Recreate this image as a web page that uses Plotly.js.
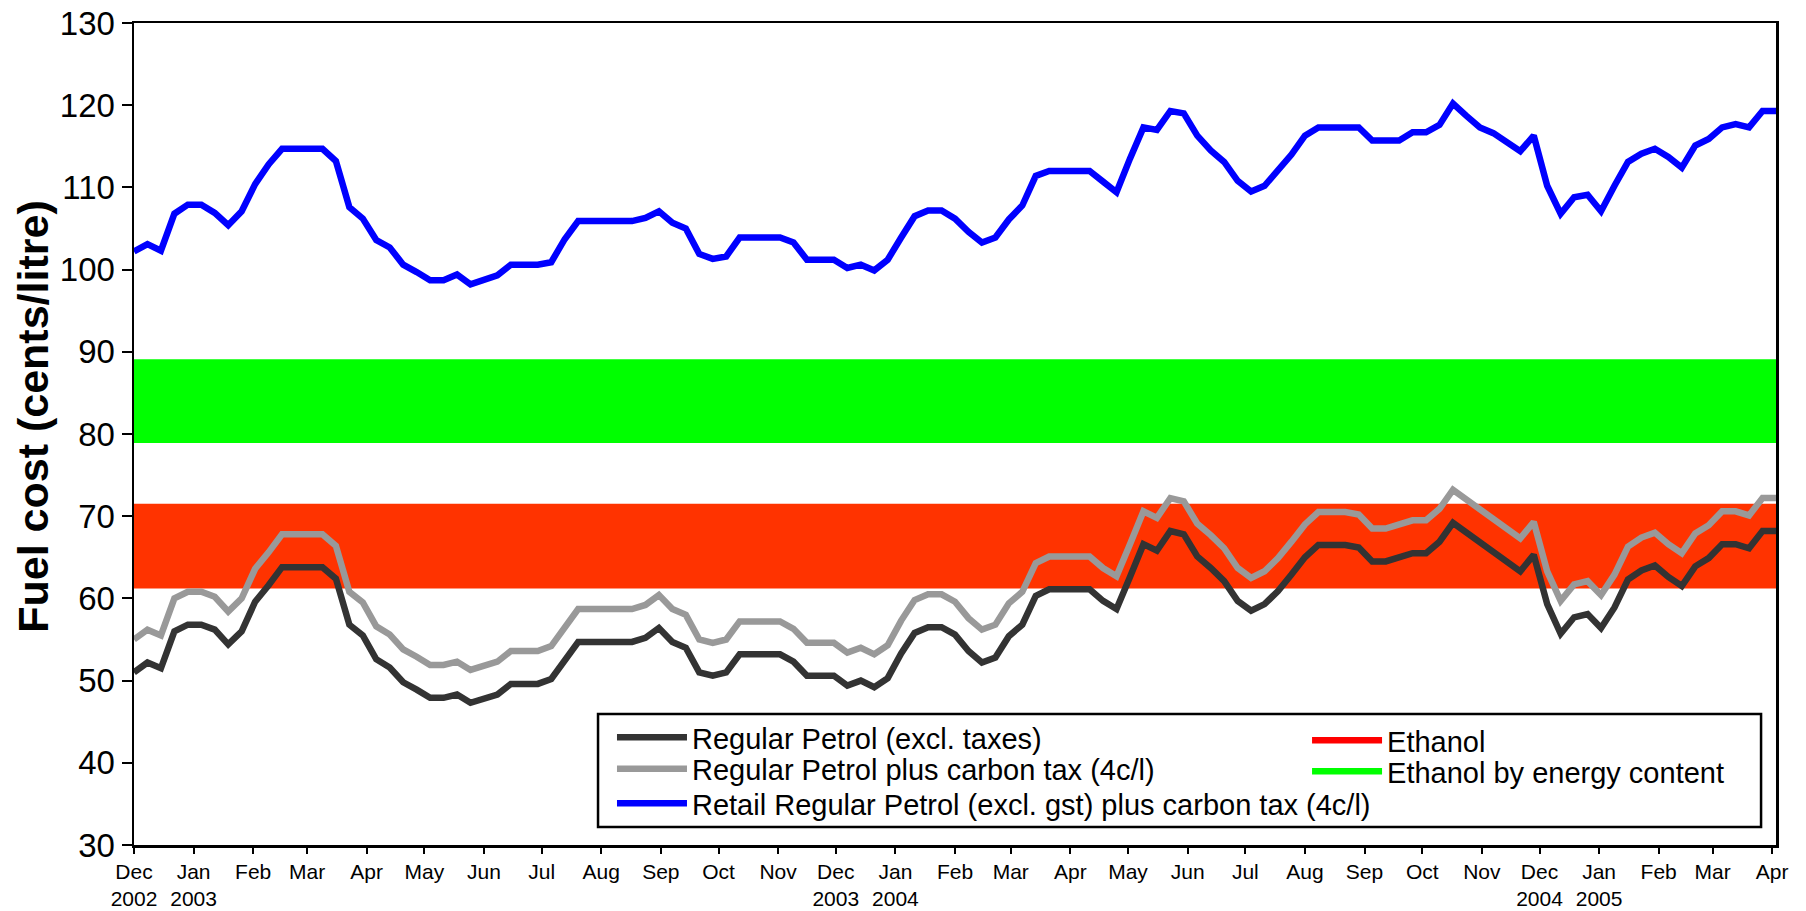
<!DOCTYPE html>
<html>
<head>
<meta charset="utf-8">
<script src="https://cdn.plot.ly/plotly-3.0.1.min.js"></script>
<style>
  html, body { margin: 0; padding: 0; background: #fff; }
  #chart { width: 1806px; height: 911px; }
</style>
</head>
<body>
<div id="chart"></div>
<script>
// ---- Data (weekly observations, cents/litre) ----
const firstWeek = '2002-12-01';

const regularPetrol = [
  51.0, 52.2, 51.5, 56.0, 56.8, 56.8, 56.2, 54.4, 56.0, 59.6,
  61.6, 63.8, 63.8, 63.8, 63.8, 62.4, 56.8, 55.5, 52.6, 51.6,
  49.8, 48.9, 47.9, 47.9, 48.3, 47.3, 47.9, 48.3, 49.6, 49.6,
  49.6, 50.2, 52.4, 54.7, 54.7, 54.7, 54.7, 54.7, 55.2, 56.4,
  54.7, 54.0, 51.0, 50.6, 51.0, 53.2, 53.2, 53.2, 53.2, 52.3,
  50.6, 50.6, 50.6, 49.4, 50.0, 49.2, 50.3, 53.3, 55.8, 56.5,
  56.5, 55.6, 53.6, 52.2, 52.8, 55.4, 56.8, 60.3, 61.1, 61.1,
  61.1, 61.1, 59.7, 58.7, 62.6, 66.6, 65.8, 68.2, 67.8, 65.1,
  63.7, 62.1, 59.7, 58.5, 59.3, 60.9, 62.9, 65.0, 66.5, 66.5,
  66.5, 66.2, 64.5, 64.5, 64.9, 65.5, 65.5, 66.9, 69.2, 68.0,
  66.8, 65.7, 64.3, 63.3, 65.3, 59.3, 55.7, 57.7, 58.1, 56.4,
  58.9, 62.3, 63.4, 64.0, 62.6, 61.5, 63.9, 64.9, 66.6, 66.6,
  66.1, 68.2, 68.2
];

const petrolPlusCarbonTax = [
  55.0, 56.2, 55.5, 60.0, 60.8, 60.8, 60.2, 58.4, 60.0, 63.6,
  65.6, 67.8, 67.8, 67.8, 67.8, 66.4, 60.8, 59.5, 56.6, 55.6,
  53.8, 52.9, 51.9, 51.9, 52.3, 51.3, 51.9, 52.3, 53.6, 53.6,
  53.6, 54.2, 56.4, 58.7, 58.7, 58.7, 58.7, 58.7, 59.2, 60.4,
  58.7, 58.0, 55.0, 54.6, 55.0, 57.2, 57.2, 57.2, 57.2, 56.3,
  54.6, 54.6, 54.6, 53.4, 54.0, 53.2, 54.3, 57.3, 59.8, 60.5,
  60.5, 59.6, 57.6, 56.2, 56.8, 59.4, 60.8, 64.3, 65.1, 65.1,
  65.1, 65.1, 63.7, 62.7, 66.6, 70.6, 69.8, 72.2, 71.8, 69.1,
  67.7, 66.1, 63.7, 62.5, 63.3, 64.9, 66.9, 69.0, 70.5, 70.5,
  70.5, 70.2, 68.5, 68.5, 68.9, 69.5, 69.5, 70.9, 73.2, 72.0,
  70.8, 69.7, 68.3, 67.3, 69.3, 63.3, 59.7, 61.7, 62.1, 60.4,
  62.9, 66.3, 67.4, 68.0, 66.6, 65.5, 67.9, 68.9, 70.6, 70.6,
  70.1, 72.2, 72.2
];

const retailPlusCarbonTax = [
  102.2, 103.1, 102.3, 106.8, 107.9, 107.9, 106.9, 105.4, 107.1, 110.4,
  112.8, 114.7, 114.7, 114.7, 114.7, 113.2, 107.6, 106.2, 103.6, 102.7,
  100.6, 99.7, 98.7, 98.7, 99.4, 98.2, 98.7, 99.3, 100.6, 100.6,
  100.6, 100.9, 103.7, 105.9, 105.9, 105.9, 105.9, 105.9, 106.3, 107.1,
  105.7, 105.0, 101.9, 101.3, 101.6, 103.9, 103.9, 103.9, 103.9, 103.3,
  101.2, 101.2, 101.2, 100.2, 100.6, 99.9, 101.2, 103.9, 106.5, 107.2,
  107.2, 106.2, 104.6, 103.3, 103.9, 106.1, 107.8, 111.4, 112.0, 112.0,
  112.0, 112.0, 110.7, 109.4, 113.5, 117.3, 117.0, 119.3, 119.0, 116.3,
  114.5, 113.1, 110.8, 109.5, 110.2, 112.1, 114.0, 116.3, 117.3, 117.3,
  117.3, 117.3, 115.7, 115.7, 115.7, 116.7, 116.7, 117.6, 120.2, 118.7,
  117.3, 116.6, 115.4, 114.4, 116.3, 110.2, 106.8, 108.8, 109.1, 107.1,
  110.2, 113.1, 114.1, 114.7, 113.7, 112.4, 115.1, 115.9, 117.3, 117.7,
  117.3, 119.3, 119.3
];

// Cost ranges (cents/litre): [low, high]
const ethanolRange = [61.2, 71.5];
const ethanolEnergyRange = [78.9, 89.1];

// Month tick positions and labels
const monthTicks = [
  '2002-12-01', '2003-01-01', '2003-02-01', '2003-03-01', '2003-04-01', '2003-05-01',
  '2003-06-01', '2003-07-01', '2003-08-01', '2003-09-01', '2003-10-01', '2003-11-01',
  '2003-12-01', '2004-01-01', '2004-02-01', '2004-03-01', '2004-04-01', '2004-05-01',
  '2004-06-01', '2004-07-01', '2004-08-01', '2004-09-01', '2004-10-01', '2004-11-01',
  '2004-12-01', '2005-01-01', '2005-02-01', '2005-03-01', '2005-04-01'
];
const monthLabels = [
  'Dec<br>2002', 'Jan<br>2003', 'Feb', 'Mar', 'Apr', 'May',
  'Jun', 'Jul', 'Aug', 'Sep', 'Oct', 'Nov',
  'Dec<br>2003', 'Jan<br>2004', 'Feb', 'Mar', 'Apr', 'May',
  'Jun', 'Jul', 'Aug', 'Sep', 'Oct', 'Nov',
  'Dec<br>2004', 'Jan<br>2005', 'Feb', 'Mar', 'Apr'
];

const yAxisTitle = 'Fuel cost (cents/litre)';

// weekly dates for the observations
const weeks = [];
{
  const d0 = new Date(firstWeek + 'T00:00:00Z');
  for (let i = 0; i < regularPetrol.length; i++) {
    const d = new Date(d0.getTime() + i * 7 * 86400000);
    weeks.push(d.toISOString().slice(0, 10));
  }
}

const FONT = 'Liberation Sans, Arial, Helvetica, sans-serif';
const LW = 6.5;

const traces = [
  { x: weeks, y: regularPetrol, type: 'scatter', mode: 'lines',
    name: 'Regular Petrol (excl. taxes)', line: { color: '#333333', width: LW }, legend: 'legend' },
  { x: weeks, y: petrolPlusCarbonTax, type: 'scatter', mode: 'lines',
    name: 'Regular Petrol plus carbon tax (4c/l)', line: { color: '#999999', width: LW }, legend: 'legend2' },
  { x: weeks, y: retailPlusCarbonTax, type: 'scatter', mode: 'lines',
    name: 'Retail Regular Petrol (excl. gst) plus carbon tax (4c/l)', line: { color: '#0000FF', width: LW }, legend: 'legend3' },
  // legend keys for the shaded cost ranges (single anchor point, no visible line)
  { x: [weeks[0]], y: [ethanolRange[0]], type: 'scatter', mode: 'lines', showlegend: true,
    name: 'Ethanol', line: { color: '#FF0000', width: LW }, legend: 'legend4', hoverinfo: 'skip' },
  { x: [weeks[0]], y: [ethanolEnergyRange[0]], type: 'scatter', mode: 'lines', showlegend: true,
    name: 'Ethanol by energy content', line: { color: '#00FF00', width: LW }, legend: 'legend5', hoverinfo: 'skip' }
];

function leg(x, y) {
  return { x: x, y: y, xanchor: 'left', yanchor: 'middle', bgcolor: 'rgba(0,0,0,0)',
           borderwidth: 0, itemwidth: 70, font: { family: FONT, size: 29, color: '#000' } };
}

const layout = {
  width: 1806, height: 911,
  margin: { l: 134, r: 30, t: 23, b: 66 },
  paper_bgcolor: '#fff', plot_bgcolor: '#fff',
  font: { family: FONT, color: '#000' },
  showlegend: true,
  xaxis: {
    type: 'date',
    range: [weeks[0], weeks[weeks.length - 1]],
    tickmode: 'array', tickvals: monthTicks, ticktext: monthLabels,
    ticks: 'outside', ticklen: 6, tickwidth: 2, tickcolor: '#000',
    showline: true, linecolor: '#000', linewidth: 2.5, mirror: true,
    showgrid: false, zeroline: false,
    tickfont: { family: FONT, size: 21, color: '#000' }
  },
  yaxis: {
    range: [30, 130], tick0: 30, dtick: 10,
    ticks: 'outside', ticklen: 10, tickwidth: 2, tickcolor: '#000',
    showline: true, linecolor: '#000', linewidth: 2.5, mirror: true,
    showgrid: false, zeroline: false,
    tickfont: { family: FONT, size: 33, color: '#000' }
  },
  annotations: [
    { text: yAxisTitle, xref: 'paper', yref: 'paper', x: -0.0615, y: 0.521,
      xanchor: 'center', yanchor: 'middle', textangle: -90, showarrow: false,
      font: { family: FONT, size: 43, weight: 'bold', color: '#000' } }
  ],
  shapes: [
    { type: 'rect', xref: 'paper', yref: 'y', x0: 0, x1: 1,
      y0: ethanolRange[0], y1: ethanolRange[1], fillcolor: '#FF3300', line: { width: 0 }, layer: 'below' },
    { type: 'rect', xref: 'paper', yref: 'y', x0: 0, x1: 1,
      y0: ethanolEnergyRange[0], y1: ethanolEnergyRange[1], fillcolor: '#00FF00', line: { width: 0 }, layer: 'below' },
    { type: 'rect', xref: 'paper', yref: 'paper', x0: 0.2826, x1: 0.9909, y0: 0.0219, y1: 0.1594,
      fillcolor: '#FFFFFF', line: { color: '#000', width: 2.5 }, layer: 'above' }
  ],
  legend: leg(0.2911, 0.1308),
  legend2: leg(0.2911, 0.0925),
  legend3: leg(0.2911, 0.0505),
  legend4: leg(0.7144, 0.1272),
  legend5: leg(0.7144, 0.0894)
};

Plotly.newPlot('chart', traces, layout, { displayModeBar: false, staticPlot: true });
</script>
</body>
</html>
